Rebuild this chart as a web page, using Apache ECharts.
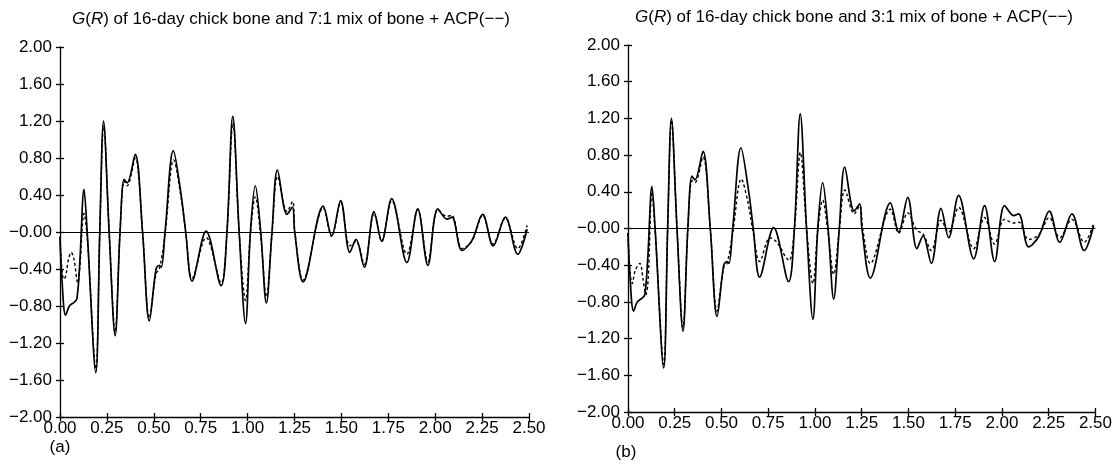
<!DOCTYPE html>
<html><head><meta charset="utf-8">
<script src="https://cdn.jsdelivr.net/npm/echarts@6/dist/echarts.min.js"></script>
<style>html,body{margin:0;padding:0;background:#fff}#c{width:1115px;height:465px}</style>
</head><body><div id="c"></div>
<script>
// R values (x) and G(R) values (y)
const bone = [
 [0.000,-0.05],[0.010,-0.50],[0.030,-0.90],[0.050,-0.80],[0.075,-0.76],[0.090,-0.72],[0.105,-0.35],
 [0.128,0.46],[0.145,0.00],[0.191,-1.52],[0.212,0.00],[0.232,1.20],[0.262,0.00],[0.294,-1.12],
 [0.320,0.00],[0.342,0.57],[0.358,0.53],[0.401,0.84],[0.440,0.00],[0.476,-0.96],[0.512,-0.40],
 [0.529,-0.36],[0.540,-0.38],[0.560,0.00],[0.604,0.88],[0.645,0.41],[0.670,0.00],[0.704,-0.53],
 [0.779,0.01],[0.859,-0.58],[0.890,0.00],[0.921,1.25],[0.955,0.00],[0.989,-0.99],[1.015,0.00],
 [1.041,0.50],[1.070,0.00],[1.100,-0.77],[1.130,0.00],[1.159,0.67],[1.210,0.19],[1.239,0.27],
 [1.251,0.00],[1.296,-0.54],[1.403,0.28],[1.448,-0.04],[1.496,0.34],[1.545,-0.22],[1.578,-0.08],
 [1.622,-0.38],[1.674,0.22],[1.715,-0.10],[1.768,0.36],[1.849,-0.33],[1.907,0.25],[1.961,-0.36],
 [2.014,0.25],[2.063,0.14],[2.089,0.16],[2.143,-0.20],[2.196,-0.09],[2.253,0.19],[2.309,-0.15],
 [2.374,0.16],[2.440,-0.24],[2.490,0.03]
];
const mix71 = [
 [0.000,-0.05],[0.008,-0.35],[0.020,-0.51],[0.030,-0.48],[0.045,-0.30],[0.060,-0.22],[0.075,-0.30],
 [0.095,-0.55],[0.105,-0.40],[0.128,0.20],[0.145,-0.05],[0.191,-1.48],[0.212,0.00],[0.233,1.15],
 [0.262,0.00],[0.294,-1.08],[0.320,0.00],[0.342,0.55],[0.358,0.50],[0.401,0.80],[0.440,0.00],
 [0.476,-0.93],[0.512,-0.45],[0.530,-0.40],[0.560,-0.02],[0.606,0.78],[0.645,0.38],[0.670,0.00],
 [0.704,-0.50],[0.779,-0.06],[0.859,-0.55],[0.890,0.00],[0.922,1.18],[0.955,0.00],[0.989,-0.74],
 [1.015,-0.02],[1.041,0.38],[1.070,-0.05],[1.100,-0.70],[1.130,-0.02],[1.160,0.60],[1.210,0.22],
 [1.240,0.33],[1.252,0.00],[1.296,-0.52],[1.403,0.26],[1.448,-0.05],[1.496,0.32],[1.545,-0.15],
 [1.578,-0.10],[1.622,-0.35],[1.674,0.20],[1.715,-0.10],[1.768,0.34],[1.849,-0.24],[1.907,0.24],
 [1.961,-0.32],[2.014,0.24],[2.063,0.17],[2.089,0.18],[2.143,-0.18],[2.196,-0.10],[2.253,0.18],
 [2.309,-0.13],[2.374,0.15],[2.440,-0.18],[2.490,0.07]
];
const mix31 = [
 [0.000,-0.05],[0.010,-0.45],[0.022,-0.60],[0.040,-0.45],[0.064,-0.38],[0.080,-0.55],[0.096,-0.72],
 [0.108,-0.55],[0.128,0.40],[0.145,-0.02],[0.191,-1.48],[0.212,0.00],[0.233,1.18],[0.262,0.00],
 [0.294,-1.08],[0.320,0.00],[0.342,0.52],[0.358,0.50],[0.401,0.78],[0.440,0.00],[0.476,-0.90],
 [0.512,-0.42],[0.530,-0.38],[0.560,-0.05],[0.606,0.54],[0.640,0.30],[0.670,-0.05],[0.704,-0.36],
 [0.760,-0.10],[0.800,-0.16],[0.840,-0.30],[0.862,-0.35],[0.890,0.00],[0.922,0.83],[0.955,0.00],
 [0.989,-0.60],[1.015,-0.02],[1.041,0.31],[1.070,-0.05],[1.100,-0.50],[1.130,-0.02],[1.160,0.42],
 [1.210,0.16],[1.240,0.25],[1.255,0.00],[1.296,-0.38],[1.403,0.21],[1.448,-0.05],[1.496,0.17],
 [1.545,-0.02],[1.578,-0.06],[1.622,-0.24],[1.674,0.09],[1.715,-0.04],[1.768,0.23],[1.849,-0.22],
 [1.907,0.12],[1.961,-0.17],[2.014,0.10],[2.063,0.06],[2.089,0.07],[2.143,-0.12],[2.196,-0.07],
 [2.253,0.12],[2.309,-0.10],[2.374,0.10],[2.440,-0.15],[2.490,0.05]
];
const xTicks = {min:0, max:2.5, step:0.25};
const yTicks = {min:-2, max:2, step:0.4};
const titles = [
 '{i|G}({i|R}) of 16-day chick bone and 7:1 mix of bone + ACP(−−)',
 '{i|G}({i|R}) of 16-day chick bone and 3:1 mix of bone + ACP(−−)'
];
const panelLabels = ['(a)','(b)'];

const FONT = '"Liberation Sans", Arial, sans-serif';
const FS = 17;
const fmtY = v => (v <= 0 ? '−' : '') + Math.abs(v).toFixed(2);
const fmtX = v => v.toFixed(2);

const grids = [
  {left:60, top:47, width:469, height:370},
  {left:628, top:45, width:468, height:367}
];
const xAxis = [], yAxis = [], series = [];
grids.forEach((g, i) => {
  const common = {gridIndex:i, type:'value', min:xTicks.min, max:xTicks.max, interval:xTicks.step, splitLine:{show:false}};
  xAxis.push(Object.assign({}, common, {
    axisLine:{onZero:false, lineStyle:{color:'#000', width:1.3}},
    axisTick:{inside:false, length:4, lineStyle:{color:'#000', width:1.3}},
    axisLabel:{color:'#000', fontFamily:FONT, fontSize:FS, margin:3, formatter:fmtX}
  }));
  xAxis.push(Object.assign({}, common, {
    position:'bottom', axisLine:{show:false, onZero:false},
    axisTick:{inside:true, length:4, lineStyle:{color:'#000', width:1.3}},
    axisLabel:{show:false}
  }));
  const ycommon = {gridIndex:i, type:'value', min:yTicks.min, max:yTicks.max, interval:yTicks.step, splitLine:{show:false}, position:'left'};
  yAxis.push(Object.assign({}, ycommon, {
    axisLine:{show:true, onZero:false, lineStyle:{color:'#000', width:1.3}},
    axisTick:{show:true, inside:false, length:4, lineStyle:{color:'#000', width:1.3}},
    axisLabel:{color:'#000', fontFamily:FONT, fontSize:FS, margin:8, formatter:fmtY}
  }));
  yAxis.push(Object.assign({}, ycommon, {
    offset:0,
    axisLine:{show:false, onZero:false},
    axisTick:{show:true, inside:true, length:4, lineStyle:{color:'#000', width:1.3}},
    axisLabel:{show:false}
  }));
  series.push({
    type:'line', xAxisIndex:2*i, yAxisIndex:2*i, data: bone, showSymbol:false, smooth:0.35,
    lineStyle:{color:'#000', width:1.7}, z:3,
    markLine:{silent:true, symbol:'none', label:{show:false}, lineStyle:{color:'#000', width:1, type:'solid'}, data:[{yAxis:0}]}
  });
  series.push({
    type:'line', xAxisIndex:2*i, yAxisIndex:2*i, data: i===0 ? mix71 : mix31, showSymbol:false, smooth:0.35,
    lineStyle:{color:'#000', width:1.4, type:[3,2.5]}, z:2
  });
});

const chart = echarts.init(document.getElementById('c'), null, {renderer:'canvas'});
chart.setOption({
  animation:false,
  backgroundColor:'#fff',
  grid: grids,
  xAxis, yAxis, series,
  graphic: [
    {type:'text', x:291, y:11, style:{text:titles[0], fill:'#000', font:`${FS}px ${FONT}`, align:'center', rich:{i:{fontStyle:'italic', fontSize:FS, fontFamily:FONT}}}},
    {type:'text', x:854, y:9, style:{text:titles[1], fill:'#000', font:`${FS}px ${FONT}`, align:'center', rich:{i:{fontStyle:'italic', fontSize:FS, fontFamily:FONT}}}},
    {type:'text', x:60, y:439, style:{text:panelLabels[0], fill:'#000', font:`${FS}px ${FONT}`, align:'center'}},
    {type:'text', x:626, y:444, style:{text:panelLabels[1], fill:'#000', font:`${FS}px ${FONT}`, align:'center'}}
  ]
});
</script></body></html>
